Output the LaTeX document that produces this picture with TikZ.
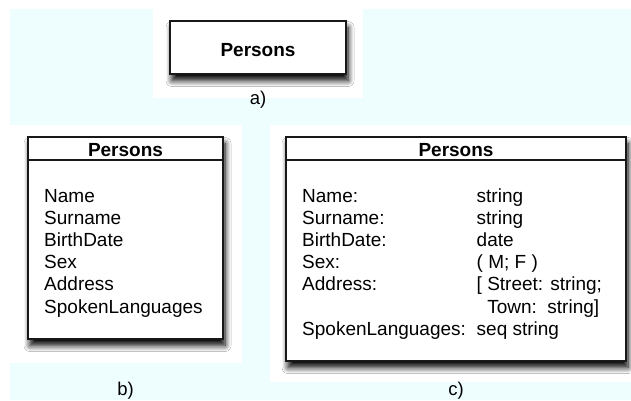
\documentclass[tikz,border=0pt]{standalone}
\usepackage{fontspec}
\setmainfont{Liberation Sans}
\usetikzlibrary{calc,shadows.blur}
\definecolor{panelcyan}{RGB}{238,254,255}
\definecolor{inkline}{RGB}{24,24,24}
\begin{document}
\begin{tikzpicture}[x=1pt,y=-1pt,
  entity/.style={draw=inkline, line width=1.5pt, fill=white, inner sep=0pt, outer sep=0pt,
    blur shadow={shadow xshift=2pt, shadow yshift=-6.5pt, shadow blur radius=6pt,
      shadow opacity=100, shadow blur steps=8}},
  divider/.style={draw=inkline, line width=1.5pt},
  title/.style={font=\fontsize{19}{22}\selectfont\bfseries, inner sep=0pt, anchor=base},
  field/.style={font=\fontsize{19}{22}\selectfont, inner sep=0pt, anchor=base west},
  caption/.style={font=\fontsize{18.5}{22}\selectfont, inner sep=0pt, anchor=base}]

% page and panel backgrounds
\useasboundingbox (0,0) rectangle (631,400);
\fill[white] (0,0) rectangle (631,400);
\fill[panelcyan] (10,9) rectangle (631,400);
\fill[white] (153,0) rectangle (363,98);
\fill[white] (0,125) rectangle (242,363);
\fill[white] (270,125) rectangle (631,382);

% a) entity as a plain box
\node[entity, minimum width=176pt, minimum height=53pt] (pa) at (258,47.5) {};
\node[title] (pat) at (258,56) {Persons};
\node[caption] (lbla) at (258,104) {a)};

% b) entity with attribute names
\node[entity, anchor=north west, minimum width=195pt, minimum height=202pt] (pb) at (28,137) {};
\draw[divider] ($(pb.north west)+(0,23)$) -- ($(pb.north east)+(0,23)$);
\node[title] (pbt) at (125.5,156) {Persons};
\foreach \t [count=\i] in {Name,Surname,BirthDate,Sex,Address,SpokenLanguages}
  \node[field] (pb\i) at (44,{202+22.2*(\i-1)}) {\t};
\node[caption] (lblb) at (125.5,395) {b)};

% c) entity with attribute names and types
\node[entity, anchor=north west, minimum width=340pt, minimum height=224pt] (pc) at (286,137) {};
\draw[divider] ($(pc.north west)+(0,23)$) -- ($(pc.north east)+(0,23)$);
\node[title] (pct) at (456,156) {Persons};
\foreach \n/\ty [count=\i] in {Name:/string, Surname:/string, BirthDate:/date,
    Sex:/{( M; F )}, Address:/{[ Street: string;}, {}/{\phantom{[\ }Town:\ \ string]},
    SpokenLanguages:/seq string}
{
  \node[field] (pcn\i) at (302,{202+22.2*(\i-1)}) {\n};
  \node[field] (pct\i) at (476.5,{202+22.2*(\i-1)}) {\ty};
}
\node[caption] (lblc) at (456,395) {c)};
\end{tikzpicture}
\end{document}
